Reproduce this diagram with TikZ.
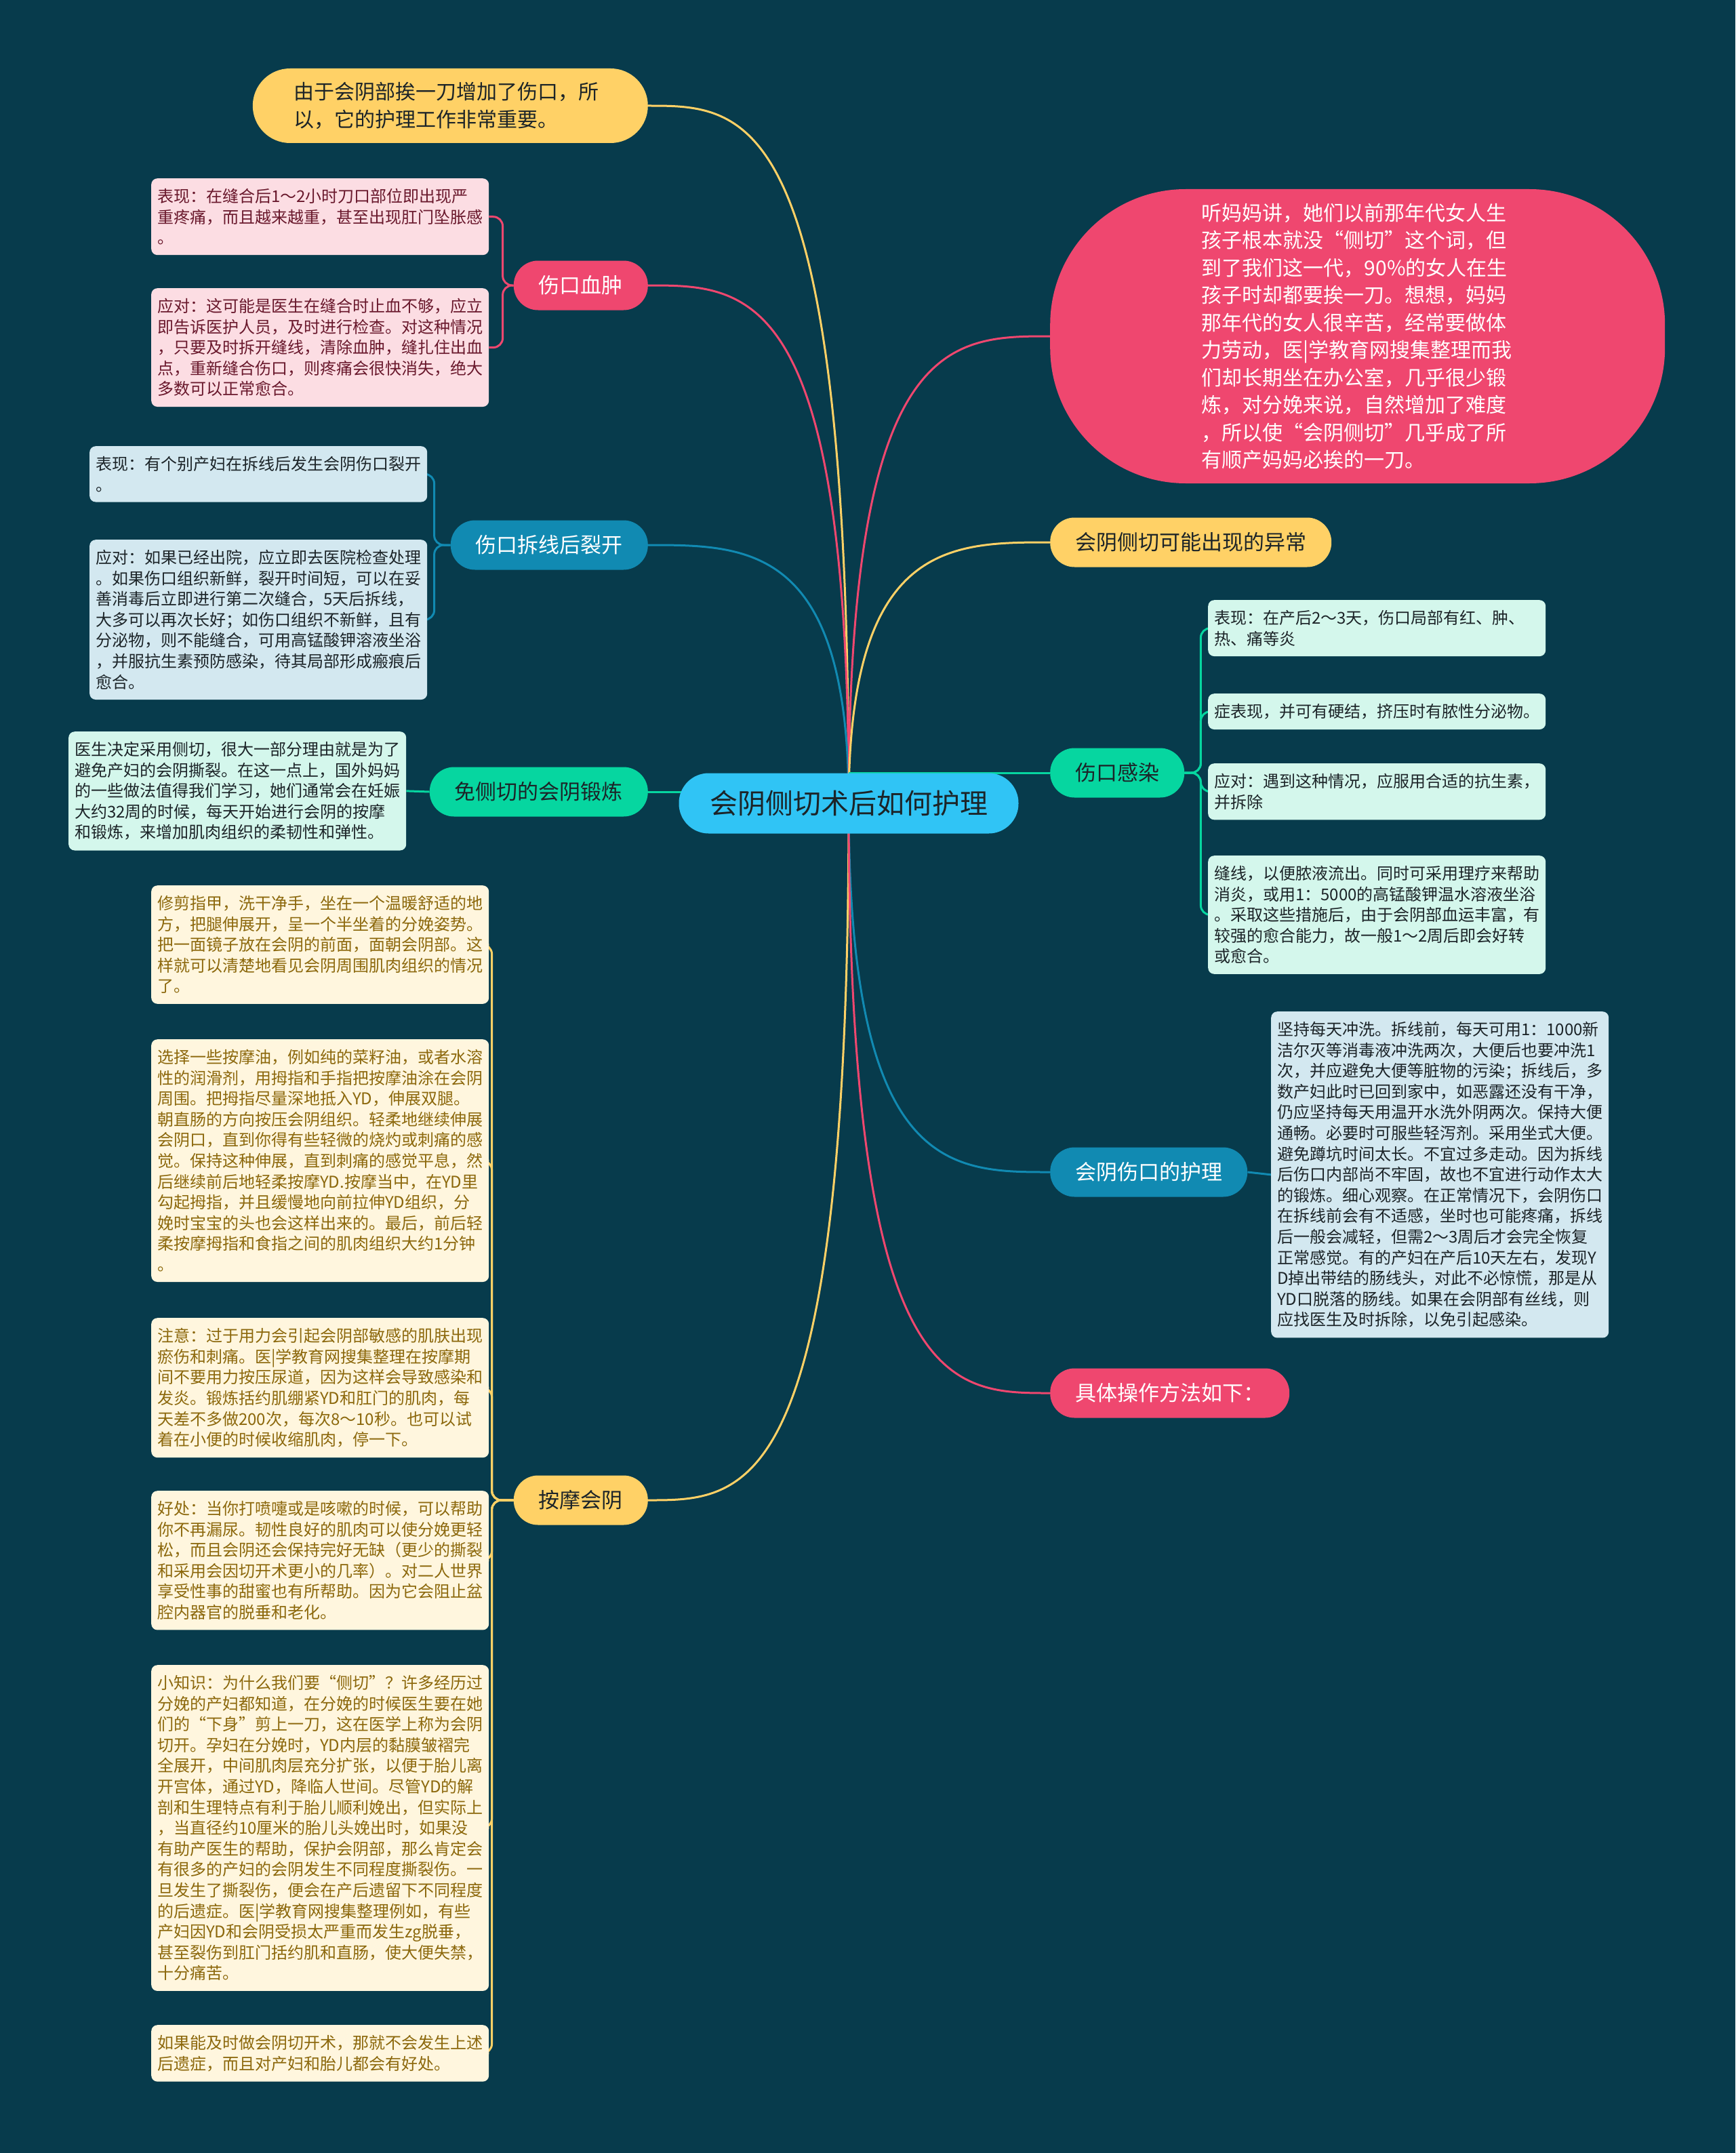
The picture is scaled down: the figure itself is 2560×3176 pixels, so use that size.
\documentclass[tikz,border=0pt]{standalone}
\usepackage{fontspec}
\setmainfont{Noto Sans CJK SC}
\usetikzlibrary{positioning, calc, backgrounds}
\definecolor{DeepTeal}{RGB}{7,59,76}
\definecolor{SkyBlue}{RGB}{48,196,245}
\definecolor{Sun}{RGB}{255,209,102}
\definecolor{Rose}{RGB}{239,71,111}
\definecolor{Ocean}{RGB}{17,138,178}
\definecolor{Mint}{RGB}{6,214,160}
\definecolor{RosePale}{RGB}{252,221,227}
\definecolor{OceanPale}{RGB}{211,232,240}
\definecolor{MintPale}{RGB}{212,247,236}
\definecolor{SunPale}{RGB}{255,246,222}
\definecolor{RoseInk}{RGB}{105,24,44}
\definecolor{SunInk}{RGB}{140,104,12}
\definecolor{DarkInk}{RGB}{28,36,40}

\begin{document}
\begin{tikzpicture}[x=1pt, y=-1pt,
    central/.style={rounded corners=44pt, fill=SkyBlue, text=DarkInk, minimum height=89pt, minimum width=501pt, font=\fontsize{41}{48}\selectfont},
    topic/.style={rounded corners=36pt, minimum height=73pt, inner xsep=37pt, font=\fontsize{31}{36}\selectfont},
    note/.style={rounded corners=9pt, text width=480pt, inner xsep=9pt, inner ysep=15pt, align=left, font=\fontsize{24}{30.6}\selectfont},
    roseleaf/.style={note, fill=RosePale, text=RoseInk},
    oceanleaf/.style={note, fill=OceanPale, text=DarkInk},
    mintleaf/.style={note, fill=MintPale, text=DarkInk},
    sunleaf/.style={note, fill=SunPale, text=SunInk},
    wire/.style={line width=3pt},
    bracket/.style={line width=3pt, rounded corners=14pt}
]
    \useasboundingbox (0,0) rectangle (2560,3176);

    \node[central] (core) at (1252,1185) {会阴侧切术后如何护理};

    \node[topic, fill=Sun, text=DarkInk, anchor=east, minimum width=583pt, minimum height=110pt, rounded corners=55pt, text width=462pt, align=left, font=\fontsize{30}{40.5}\selectfont] (intro) at (956,156) {由于会阴部挨一刀增加了伤口，所\\以，它的护理工作非常重要。};
    \node[topic, fill=Rose, text=white, anchor=east] (xuezhong) at (956,421) {伤口血肿};
    \node[topic, fill=Ocean, text=white, anchor=east] (liekai) at (956,804) {伤口拆线后裂开};
    \node[topic, fill=Mint, text=DarkInk, anchor=east] (duanlian) at (956,1168) {免侧切的会阴锻炼};
    \node[topic, fill=Sun, text=DarkInk, anchor=east] (anmo) at (956,2213) {按摩会阴};

    \node[topic, fill=Rose, text=white, anchor=west, minimum width=907pt, minimum height=434pt, rounded corners=200pt, text width=460pt, align=left, font=\fontsize{30}{40.5}\selectfont] (story) at (1549,496) {听妈妈讲，她们以前那年代女人生\\孩子根本就没“侧切”这个词，但\\到了我们这一代，90\%的女人在生\\孩子时却都要挨一刀。想想，妈妈\\那年代的女人很辛苦，经常要做体\\力劳动，医|学教育网搜集整理而我\\们却长期坐在办公室，几乎很少锻\\炼，对分娩来说，自然增加了难度\\，所以使“会阴侧切”几乎成了所\\有顺产妈妈必挨的一刀。};
    \node[topic, fill=Sun, text=DarkInk, anchor=west] (yichang) at (1549,800) {会阴侧切可能出现的异常};
    \node[topic, fill=Mint, text=DarkInk, anchor=west] (ganran) at (1549,1140) {伤口感染};
    \node[topic, fill=Ocean, text=white, anchor=west] (huli) at (1549,1729) {会阴伤口的护理};
    \node[topic, fill=Rose, text=white, anchor=west] (caozuo) at (1549,2055) {具体操作方法如下：};

    \node[roseleaf, anchor=north west] (xz1) at (223,263) {表现：在缝合后1～2小时刀口部位即出现严\\重疼痛，而且越来越重，甚至出现肛门坠胀感\\。};
    \node[roseleaf, anchor=north west] (xz2) at (223,425) {应对：这可能是医生在缝合时止血不够，应立\\即告诉医护人员，及时进行检查。对这种情况\\，只要及时拆开缝线，清除血肿，缝扎住出血\\点，重新缝合伤口，则疼痛会很快消失，绝大\\多数可以正常愈合。};

    \node[oceanleaf, anchor=north west] (lk1) at (132,658) {表现：有个别产妇在拆线后发生会阴伤口裂开\\。};
    \node[oceanleaf, anchor=north west] (lk2) at (132,796) {应对：如果已经出院，应立即去医院检查处理\\。如果伤口组织新鲜，裂开时间短，可以在妥\\善消毒后立即进行第二次缝合，5天后拆线，\\大多可以再次长好；如伤口组织不新鲜，且有\\分泌物，则不能缝合，可用高锰酸钾溶液坐浴\\，并服抗生素预防感染，待其局部形成瘢痕后\\愈合。};

    \node[mintleaf, anchor=north west] (dl1) at (101,1079) {医生决定采用侧切，很大一部分理由就是为了\\避免产妇的会阴撕裂。在这一点上，国外妈妈\\的一些做法值得我们学习，她们通常会在妊娠\\大约32周的时候，每天开始进行会阴的按摩\\和锻炼，来增加肌肉组织的柔韧性和弹性。};

    \node[sunleaf, anchor=north west] (am1) at (223,1306) {修剪指甲，洗干净手，坐在一个温暖舒适的地\\方，把腿伸展开，呈一个半坐着的分娩姿势。\\把一面镜子放在会阴的前面，面朝会阴部。这\\样就可以清楚地看见会阴周围肌肉组织的情况\\了。};
    \node[sunleaf, anchor=north west] (am2) at (223,1533) {选择一些按摩油，例如纯的菜籽油，或者水溶\\性的润滑剂，用拇指和手指把按摩油涂在会阴\\周围。把拇指尽量深地抵入YD，伸展双腿。\\朝直肠的方向按压会阴组织。轻柔地继续伸展\\会阴口，直到你得有些轻微的烧灼或刺痛的感\\觉。保持这种伸展，直到刺痛的感觉平息，然\\后继续前后地轻柔按摩YD.按摩当中，在YD里\\勾起拇指，并且缓慢地向前拉伸YD组织，分\\娩时宝宝的头也会这样出来的。最后，前后轻\\柔按摩拇指和食指之间的肌肉组织大约1分钟\\。};
    \node[sunleaf, anchor=north west] (am3) at (223,1944) {注意：过于用力会引起会阴部敏感的肌肤出现\\瘀伤和刺痛。医|学教育网搜集整理在按摩期\\间不要用力按压尿道，因为这样会导致感染和\\发炎。锻炼括约肌绷紧YD和肛门的肌肉，每\\天差不多做200次，每次8～10秒。也可以试\\着在小便的时候收缩肌肉，停一下。};
    \node[sunleaf, anchor=north west] (am4) at (223,2199) {好处：当你打喷嚏或是咳嗽的时候，可以帮助\\你不再漏尿。韧性良好的肌肉可以使分娩更轻\\松，而且会阴还会保持完好无缺（更少的撕裂\\和采用会因切开术更小的几率）。对二人世界\\享受性事的甜蜜也有所帮助。因为它会阻止盆\\腔内器官的脱垂和老化。};
    \node[sunleaf, anchor=north west] (am5) at (223,2456) {小知识：为什么我们要“侧切”？许多经历过\\分娩的产妇都知道，在分娩的时候医生要在她\\们的“下身”剪上一刀，这在医学上称为会阴\\切开。孕妇在分娩时，YD内层的黏膜皱褶完\\全展开，中间肌肉层充分扩张，以便于胎儿离\\开宫体，通过YD，降临人世间。尽管YD的解\\剖和生理特点有利于胎儿顺利娩出，但实际上\\，当直径约10厘米的胎儿头娩出时，如果没\\有助产医生的帮助，保护会阴部，那么肯定会\\有很多的产妇的会阴发生不同程度撕裂伤。一\\旦发生了撕裂伤，便会在产后遗留下不同程度\\的后遗症。医|学教育网搜集整理例如，有些\\产妇因YD和会阴受损太严重而发生zg脱垂，\\甚至裂伤到肛门括约肌和直肠，使大便失禁，\\十分痛苦。};
    \node[sunleaf, anchor=north west] (am6) at (223,2987) {如果能及时做会阴切开术，那就不会发生上述\\后遗症，而且对产妇和胎儿都会有好处。};

    \node[mintleaf, anchor=north west] (gr1) at (1782,885) {表现：在产后2～3天，伤口局部有红、肿、\\热、痛等炎};
    \node[mintleaf, anchor=north west] (gr2) at (1782,1023) {症表现，并可有硬结，挤压时有脓性分泌物。};
    \node[mintleaf, anchor=north west] (gr3) at (1782,1126) {应对：遇到这种情况，应服用合适的抗生素，\\并拆除};
    \node[mintleaf, anchor=north west] (gr4) at (1782,1262) {缝线，以便脓液流出。同时可采用理疗来帮助\\消炎，或用1：5000的高锰酸钾温水溶液坐浴\\。采取这些措施后，由于会阴部血运丰富，有\\较强的愈合能力，故一般1～2周后即会好转\\或愈合。};

    \node[oceanleaf, anchor=north west] (hl1) at (1875,1492) {坚持每天冲洗。拆线前，每天可用1：1000新\\洁尔灭等消毒液冲洗两次，大便后也要冲洗1\\次，并应避免大便等脏物的污染；拆线后，多\\数产妇此时已回到家中，如恶露还没有干净，\\仍应坚持每天用温开水洗外阴两次。保持大便\\通畅。必要时可服些轻泻剂。采用坐式大便。\\避免蹲坑时间太长。不宜过多走动。因为拆线\\后伤口内部尚不牢固，故也不宜进行动作太大\\的锻炼。细心观察。在正常情况下，会阴伤口\\在拆线前会有不适感，坐时也可能疼痛，拆线\\后一般会减轻，但需2～3周后才会完全恢复\\正常感觉。有的产妇在产后10天左右，发现Y\\D掉出带结的肠线头，对此不必惊慌，那是从\\YD口脱落的肠线。如果在会阴部有丝线，则\\应找医生及时拆除，以免引起感染。};

    \begin{scope}[on background layer]
    \fill[DeepTeal] (0,0) rectangle (2560,3176);

    \draw[wire, Sun] (core.center) .. controls (core.center |- intro.east) and ($(core.center |- intro.east)!0.5!(intro.east)$) .. (intro.east);
    \draw[wire, Rose] (core.center) .. controls (core.center |- xuezhong.east) and ($(core.center |- xuezhong.east)!0.5!(xuezhong.east)$) .. (xuezhong.east);
    \draw[wire, Ocean] (core.center) .. controls (core.center |- liekai.east) and ($(core.center |- liekai.east)!0.5!(liekai.east)$) .. (liekai.east);
    \draw[wire, Mint] (core.center |- duanlian.east) -- (duanlian.east);
    \draw[wire, Sun] (core.center) .. controls (core.center |- anmo.east) and ($(core.center |- anmo.east)!0.5!(anmo.east)$) .. (anmo.east);
    \draw[wire, Rose] (core.center) .. controls (core.center |- story.west) and ($(core.center |- story.west)!0.5!(story.west)$) .. (story.west);
    \draw[wire, Sun] (core.center) .. controls (core.center |- yichang.west) and ($(core.center |- yichang.west)!0.5!(yichang.west)$) .. (yichang.west);
    \draw[wire, Mint] (core.center |- ganran.west) -- (ganran.west);
    \draw[wire, Ocean] (core.center) .. controls (core.center |- huli.west) and ($(core.center |- huli.west)!0.5!(huli.west)$) .. (huli.west);
    \draw[wire, Rose] (core.center) .. controls (core.center |- caozuo.west) and ($(core.center |- caozuo.west)!0.5!(caozuo.west)$) .. (caozuo.west);

    \draw[bracket, Rose] (xuezhong.west) -- ++(-16,0) |- (xz1.east);
    \draw[bracket, Rose] (xuezhong.west) -- ++(-16,0) |- (xz2.east);
    \draw[bracket, Ocean] (liekai.west) -- ++(-24,0) |- (lk1.east);
    \draw[bracket, Ocean] (liekai.west) -- ++(-24,0) |- (lk2.east);
    \draw[wire, Mint] (duanlian.west) -- (dl1.east);
    \draw[bracket, Sun] (anmo.west) -- ++(-32,0) |- (am1.east);
    \draw[bracket, Sun] (anmo.west) -- ++(-32,0) |- (am2.east);
    \draw[bracket, Sun] (anmo.west) -- ++(-32,0) |- (am3.east);
    \draw[bracket, Sun] (anmo.west) -- ++(-32,0) |- (am4.east);
    \draw[bracket, Sun] (anmo.west) -- ++(-32,0) |- (am5.east);
    \draw[bracket, Sun] (anmo.west) -- ++(-32,0) |- (am6.east);
    \draw[bracket, Mint] (ganran.east) -- ++(24,0) |- (gr1.west);
    \draw[bracket, Mint] (ganran.east) -- ++(24,0) |- (gr2.west);
    \draw[bracket, Mint] (ganran.east) -- ++(24,0) |- (gr3.west);
    \draw[bracket, Mint] (ganran.east) -- ++(24,0) |- (gr4.west);
    \draw[wire, Ocean] (huli.east) -- (hl1.west);
    \end{scope}
\end{tikzpicture}
\end{document}
